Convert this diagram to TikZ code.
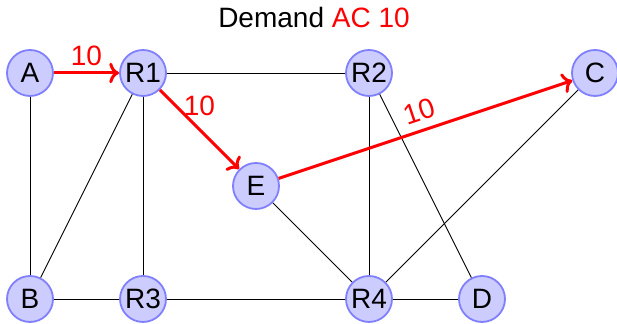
\documentclass[tikz,border=0pt]{standalone}
\usepackage{fontspec}
\setmainfont{Liberation Sans}
\usepackage{tikz}
\usetikzlibrary{positioning,arrows.meta}

\begin{document}
\begin{tikzpicture}[
    x=56.5pt, y=56.5pt,
    font=\fontsize{14}{16}\selectfont,
    router/.style={circle, draw=blue!50, fill=blue!20, line width=0.9pt, minimum size=23pt, inner sep=0pt},
    link/.style={draw=black, line width=0.45pt},
    demand/.style={draw=red, line width=1.5pt, ->},
    flow note/.style={text=red, inner sep=3pt}
]
  \useasboundingbox (-15pt,-12.5pt) rectangle (293.5pt,149.5pt);

  \node (title) at (142pt,140.5pt) {Demand \textcolor{red}{AC 10}};

  \node[router] (A)  at (0,2) {A};
  \node[router] (R1) at (1,2) {R1};
  \node[router] (R2) at (3,2) {R2};
  \node[router] (C)  at (5,2) {C};
  \node[router] (E)  at (2,1) {E};
  \node[router] (B)  at (0,0) {B};
  \node[router] (R3) at (1,0) {R3};
  \node[router] (R4) at (3,0) {R4};
  \node[router] (D)  at (4,0) {D};

  \draw[link] (R1) -- (R2);
  \draw[link] (A) -- (B);
  \draw[link] (R1) -- (B);
  \draw[link] (R1) -- (R3);
  \draw[link] (R2) -- (R4);
  \draw[link] (R2) -- (D);
  \draw[link] (E) -- (R4);
  \draw[link] (C) -- (R4);
  \draw[link] (B) -- (R3);
  \draw[link] (R3) -- (R4);
  \draw[link] (R4) -- (D);

  \draw[demand] (A) -- node[flow note, above] {10} (R1);
  \draw[demand] (R1) -- node[flow note, above, yshift=3pt] {10} (E);
  \draw[demand] (E) -- node[flow note, above, sloped, inner sep=4pt] {10} (C);
\end{tikzpicture}
\end{document}
